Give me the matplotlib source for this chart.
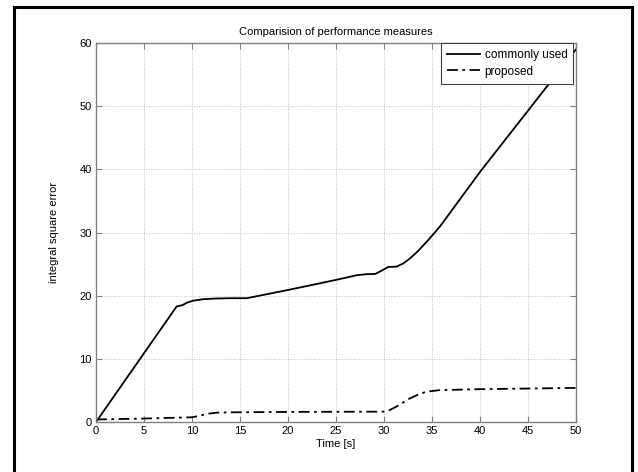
import matplotlib
matplotlib.use("Agg")
import matplotlib.pyplot as plt
from matplotlib.patches import Rectangle

plt.rcParams['font.family'] = ['Liberation Sans', 'DejaVu Sans']

# integral square error over time for both measures
t_common = [0, 8.4, 9.0, 9.5, 10.1, 11.2, 12.5, 14, 15.7, 20, 25, 27.2, 28.2,
            29.1, 29.8, 30.45, 31.3, 32, 32.7, 33.5, 34.6, 35.8, 40, 45, 50]
ise_common = [0, 18.3, 18.5, 18.9, 19.2, 19.45, 19.55, 19.6, 19.6, 20.9, 22.5,
              23.25, 23.4, 23.45, 24.0, 24.55, 24.6, 25.1, 25.9, 27.0, 28.8,
              30.9, 39.6, 49.3, 59.0]

t_prop = [0, 5, 10, 10.8, 11.6, 12.5, 14, 20, 25, 30, 30.6, 31.3, 32, 32.7,
          33.5, 34.4, 35.8, 40, 45, 50]
ise_prop = [0.4, 0.55, 0.75, 1.0, 1.3, 1.47, 1.53, 1.6, 1.62, 1.64, 1.9, 2.45,
            3.1, 3.75, 4.3, 4.8, 5.05, 5.2, 5.3, 5.4]

xticks = list(range(0, 51, 5))
yticks = list(range(0, 61, 10))

fig = plt.figure(figsize=(6.38, 4.72), dpi=100)
ax = fig.add_axes([0.1505, 0.1059, 0.7524, 0.803])

ax.plot(t_common, ise_common, color='black', lw=1.3, label='commonly used')
ax.plot(t_prop, ise_prop, color='black', lw=1.3, ls=(0, (6, 2.5, 1.5, 2.5)),
        label='proposed')

ax.set_xlim(0, 50)
ax.set_ylim(0, 60)
ax.set_xticks(xticks)
ax.set_yticks(yticks)
ax.grid(True, color='#b0b0b0', linestyle=(0, (1, 2)), linewidth=0.6)
for s in ax.spines.values():
    s.set_color('#808080')
    s.set_linewidth(1.0)
ax.tick_params(direction='in', top=True, right=True, color='#808080',
               length=4, labelsize=8, pad=3)

ax.set_title('Comparision of performance measures', fontsize=8, pad=6)
ax.set_xlabel('Time [s]', fontsize=8, labelpad=2)
ax.set_ylabel('integral square error', fontsize=8, labelpad=15)

leg = ax.legend(loc='upper right', fontsize=8.5, handlelength=2.8,
                handletextpad=0.35, borderaxespad=0.0, borderpad=0.5,
                labelspacing=0.4, fancybox=False, framealpha=1,
                edgecolor='#404040', bbox_to_anchor=(0.994, 1.0))
leg.get_frame().set_linewidth(0.8)

# outer frame around the figure, running past the bottom edge
fig.patches.append(Rectangle((14 / 638, -0.05), (632 - 14) / 638, 1 - 7 / 472 + 0.05,
                             transform=fig.transFigure, fill=False,
                             edgecolor='black', linewidth=2.2, clip_on=False))

fig.savefig('out.png', dpi=100)
